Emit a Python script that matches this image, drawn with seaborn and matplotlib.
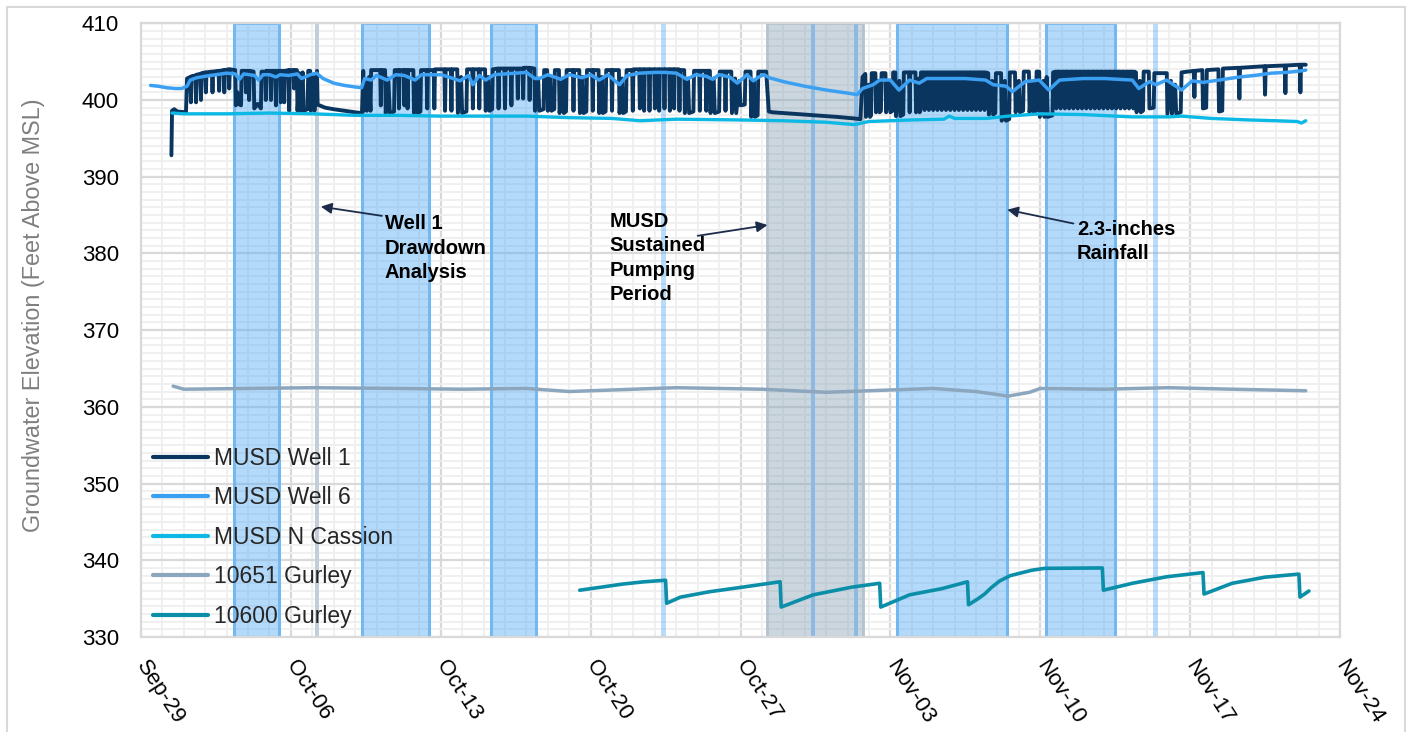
import numpy as np
import pandas as pd
import matplotlib
matplotlib.use("Agg")
import matplotlib.pyplot as plt
import matplotlib.dates as mdates
from matplotlib.patches import Rectangle
import seaborn as sns

# ---------------- data (day offsets from Sep-29, elevation ft MSL) ----------------
START = pd.Timestamp("2019-09-29")

xtick_labels = ["Sep-29", "Oct-06", "Oct-13", "Oct-20", "Oct-27",
                "Nov-03", "Nov-10", "Nov-17", "Nov-24"]
xtick_days = [0, 7, 14, 21, 28, 35, 42, 49, 56]
yticks = [330, 340, 350, 360, 370, 380, 390, 400, 410]

series_names = ["MUSD Well 1", "MUSD Well 6", "MUSD N Cassion",
                "10651 Gurley", "10600 Gurley"]
series_colors = ["#0a355f", "#3ba0f2", "#0cb9e4", "#8ba6bd", "#0b8ea8"]

w1_startup = [(1.42, 392.8), (1.45, 398.6), (1.55, 398.8), (1.7, 398.5), (2.1, 398.4), (2.15, 402.8),
              (2.30, 403.0), (2.33, 399.7), (2.36, 403.1), (2.54, 403.2), (2.57, 399.7), (2.60, 403.3),
              (2.77, 403.4), (2.80, 400.0), (2.83, 403.5), (3.00, 403.6), (3.03, 401.0), (3.06, 403.6),
              (3.31, 403.7), (3.34, 401.0), (3.37, 403.7), (3.62, 403.8), (3.65, 401.2), (3.68, 403.8),
              (3.86, 403.9), (3.89, 401.0), (3.92, 403.9), (4.09, 404.0), (4.12, 401.5), (4.15, 404.0),
              (4.40, 403.9), (4.43, 399.3), (4.50, 401.0), (4.55, 399.5), (4.67, 399.3), (4.70, 403.8),
              (4.87, 403.8), (4.90, 401.0), (4.93, 403.8), (5.02, 403.8), (5.05, 400.0), (5.08, 403.8),
              (5.26, 403.7), (5.29, 398.9), (5.45, 399.5), (5.60, 398.9), (5.63, 403.7), (5.80, 403.7),
              (5.83, 400.0), (5.86, 403.8), (6.04, 403.8), (6.07, 400.0), (6.10, 403.8), (6.27, 403.8),
              (6.30, 399.3), (6.33, 403.8), (6.50, 403.8), (6.53, 399.7), (6.56, 403.8), (6.66, 403.8),
              (6.69, 399.7), (6.72, 403.8), (6.89, 403.9), (6.92, 398.6), (6.95, 403.9), (7.12, 403.9),
              (7.15, 401.5), (7.18, 403.9), (7.28, 403.9), (7.31, 398.6), (7.40, 403.5), (7.45, 398.6),
              (7.55, 403.6), (7.60, 398.6), (7.78, 398.8), (7.81, 403.8), (7.90, 403.8), (7.93, 398.6),
              (8.05, 403.0), (8.10, 398.6), (8.22, 403.8), (8.25, 399.4), (8.6, 399.0), (9.0, 398.8),
              (9.5, 398.6), (10.0, 398.4), (10.32, 398.3)]

w1_october = [(10.38, 403.8), (10.42, 398.6), (10.50, 402.5), (10.55, 398.6), (10.65, 403.0), (10.72, 398.6),
              (10.75, 403.9), (11.17, 403.9), (11.20, 399.3), (11.23, 403.9), (11.40, 403.9), (11.43, 398.3),
              (11.55, 402.8), (11.62, 398.3), (11.82, 398.5), (11.85, 403.9), (12.02, 403.9), (12.05, 398.9),
              (12.08, 403.9), (12.27, 403.9), (12.30, 399.3), (12.33, 403.9), (12.42, 403.9), (12.45, 398.9),
              (12.48, 403.9), (12.72, 403.9), (12.75, 398.3), (12.88, 402.8), (12.93, 398.3), (13.05, 398.5),
              (13.08, 403.9), (13.34, 403.9), (13.37, 398.9), (13.40, 403.9), (13.67, 403.9), (13.70, 398.9),
              (13.73, 404.0), (14.17, 404.0), (14.20, 398.6), (14.23, 404.0), (14.47, 404.0), (14.50, 398.6),
              (14.53, 404.0), (14.77, 404.0), (14.80, 398.3), (14.95, 403.0), (15.00, 398.3), (15.20, 398.5),
              (15.23, 404.0), (15.47, 404.0), (15.50, 398.9), (15.53, 404.0), (15.77, 404.0), (15.80, 398.9),
              (15.83, 404.0), (16.07, 404.0), (16.10, 398.6), (16.22, 403.0), (16.27, 398.6), (16.40, 398.8),
              (16.43, 404.0), (16.67, 404.1), (16.70, 398.9), (16.73, 404.1), (16.97, 404.1), (17.00, 398.9),
              (17.03, 404.1), (17.27, 404.1), (17.30, 399.3), (17.33, 404.1), (17.57, 404.1), (17.60, 400.2),
              (17.63, 404.1), (17.82, 404.1), (17.85, 400.2), (17.88, 404.2), (18.12, 404.2), (18.15, 400.0),
              (18.18, 404.2), (18.37, 404.1), (18.40, 398.6), (18.55, 402.8), (18.60, 398.6), (18.80, 398.8),
              (18.83, 403.9), (18.97, 403.9), (19.00, 398.6), (19.12, 403.0), (19.17, 398.6), (19.30, 398.8),
              (19.33, 403.9), (19.52, 403.9), (19.55, 398.3), (19.70, 402.8), (19.75, 398.3), (19.85, 398.5),
              (19.88, 403.9), (20.17, 403.9), (20.20, 398.6), (20.23, 403.9), (20.47, 403.9), (20.50, 398.3),
              (20.62, 403.0), (20.67, 398.3), (20.80, 398.5), (20.83, 403.9), (21.07, 403.9), (21.10, 398.6),
              (21.13, 403.9), (21.37, 403.9), (21.40, 398.3), (21.52, 403.0), (21.57, 398.3), (21.70, 398.5),
              (21.73, 403.9), (21.97, 403.9), (22.00, 398.6), (22.03, 403.9), (22.32, 403.9), (22.35, 398.3),
              (22.47, 402.8), (22.52, 398.3), (22.65, 398.5), (22.68, 403.9), (22.94, 403.9), (22.97, 398.6),
              (23.00, 404.0), (23.27, 404.0), (23.30, 398.9), (23.33, 404.0), (23.47, 404.0), (23.50, 398.6),
              (23.53, 404.0), (23.72, 404.0), (23.75, 398.6), (23.78, 404.0), (23.97, 404.0), (24.00, 398.9),
              (24.03, 404.0), (24.17, 404.0), (24.20, 398.6), (24.23, 404.0), (24.42, 404.0), (24.45, 398.9),
              (24.48, 404.0), (24.67, 404.0), (24.70, 398.6), (24.73, 404.0), (24.87, 404.0), (24.90, 398.9),
              (24.93, 404.0), (25.12, 404.0), (25.15, 398.6), (25.18, 403.9), (25.37, 403.9), (25.40, 398.3),
              (25.55, 402.8), (25.60, 398.3), (25.80, 398.5), (25.83, 403.8), (26.07, 403.8), (26.10, 398.6),
              (26.13, 403.8), (26.37, 403.8), (26.40, 398.6), (26.43, 403.8), (26.57, 403.8), (26.60, 398.3),
              (26.75, 402.8), (26.80, 398.3), (27.00, 398.5), (27.03, 403.7), (27.27, 403.7), (27.30, 398.6),
              (27.33, 403.7), (27.57, 403.7), (27.60, 398.3), (27.75, 402.8), (27.80, 398.3), (27.95, 402.5),
              (28.00, 399.3), (28.20, 399.4), (28.23, 403.7), (28.47, 403.7), (28.50, 397.8), (28.62, 402.5),
              (28.67, 397.8), (28.80, 398.0), (28.83, 403.7), (29.20, 403.7)]

w1_sustained = [(29.32, 398.5), (29.5, 398.4), (30.5, 398.2), (31.5, 398.0), (32.5, 397.8),
                (33.3, 397.6), (33.6, 397.5)]

w1_november = [(33.70, 403.0), (33.83, 403.4), (33.86, 397.8), (34.00, 402.0), (34.05, 397.8), (34.10, 398.0),
               (34.13, 403.5), (34.30, 403.5), (34.33, 398.4), (34.45, 402.5), (34.50, 398.4), (34.56, 398.6),
               (34.59, 403.5), (34.77, 403.5), (34.80, 398.4), (34.95, 402.5), (35.00, 398.4), (35.10, 398.6),
               (35.13, 403.6), (35.23, 403.6), (35.26, 397.9), (35.42, 402.5), (35.47, 397.9), (35.60, 398.1),
               (35.63, 403.6), (35.87, 403.6), (35.90, 398.4), (35.93, 403.6), (36.17, 403.6), (36.20, 398.4),
               (36.32, 402.8), (36.37, 398.4), (36.40, 398.6), (36.43, 403.6),
               (36.57, 403.6), (36.60, 398.7), (36.65, 403.6), (36.77, 403.6), (36.80, 398.7), (36.85, 403.6),
               (36.97, 403.6), (37.00, 398.7), (37.05, 403.6), (37.17, 403.6), (37.20, 398.7), (37.25, 403.6),
               (37.37, 403.6), (37.40, 398.7), (37.45, 403.6), (37.57, 403.6), (37.60, 398.7), (37.65, 403.6),
               (37.77, 403.6), (37.80, 398.7), (37.85, 403.6), (37.97, 403.6), (38.00, 398.7), (38.05, 403.6),
               (38.17, 403.6), (38.20, 398.7), (38.25, 403.6), (38.37, 403.6), (38.40, 398.7), (38.45, 403.6),
               (38.57, 403.6), (38.60, 398.7), (38.65, 403.6), (38.77, 403.6), (38.80, 398.7), (38.85, 403.6),
               (38.97, 403.6), (39.00, 398.7), (39.05, 403.6), (39.17, 403.6), (39.20, 398.7), (39.25, 403.6),
               (39.37, 403.6), (39.40, 398.7), (39.45, 403.6),
               (39.57, 403.5), (39.60, 398.1), (39.75, 402.5), (39.80, 398.1), (39.90, 398.3), (39.93, 403.5),
               (40.17, 403.5), (40.20, 397.3), (40.35, 402.5), (40.40, 397.3), (40.55, 397.5), (40.58, 403.6),
               (40.82, 403.6), (40.85, 398.4), (41.00, 402.5), (41.05, 398.4), (41.20, 398.6), (41.23, 403.7),
               (41.47, 403.7), (41.50, 398.4), (41.65, 402.5), (41.70, 398.4), (41.80, 398.6), (41.83, 403.7),
               (41.95, 403.7), (41.98, 397.8), (42.15, 402.5), (42.20, 397.8), (42.30, 403.0), (42.35, 397.8),
               (42.57, 398.0), (42.60, 403.6),
               (42.72, 403.7), (42.75, 398.9), (42.80, 403.7), (42.92, 403.7), (42.95, 398.9), (43.00, 403.7),
               (43.12, 403.7), (43.15, 398.9), (43.20, 403.7), (43.32, 403.7), (43.35, 398.9), (43.40, 403.7),
               (43.52, 403.7), (43.55, 398.9), (43.60, 403.7), (43.72, 403.7), (43.75, 398.9), (43.80, 403.7),
               (43.92, 403.7), (43.95, 398.9), (44.00, 403.7), (44.12, 403.7), (44.15, 398.9), (44.20, 403.7),
               (44.32, 403.7), (44.35, 398.9), (44.40, 403.7), (44.52, 403.7), (44.55, 398.9), (44.60, 403.7),
               (44.72, 403.7), (44.75, 398.9), (44.80, 403.7), (44.92, 403.7), (44.95, 398.9), (45.00, 403.7),
               (45.12, 403.7), (45.15, 398.9), (45.20, 403.7), (45.32, 403.7), (45.35, 398.9), (45.40, 403.7),
               (45.52, 403.7), (45.55, 398.9), (45.60, 403.7), (45.72, 403.7), (45.75, 398.9), (45.80, 403.7),
               (45.92, 403.7), (45.95, 398.9), (46.00, 403.7), (46.12, 403.7), (46.15, 398.9), (46.20, 403.7),
               (46.32, 403.7), (46.35, 398.9), (46.40, 403.7),
               (46.47, 403.6), (46.50, 398.4), (46.65, 402.5), (46.70, 398.4), (46.80, 398.6), (46.83, 403.7),
               (46.95, 403.7), (47.07, 403.7), (47.10, 398.9), (47.30, 399.0), (47.33, 403.5), (47.78, 403.5),
               (47.91, 403.5), (47.94, 398.2), (48.10, 402.5), (48.15, 398.2), (48.30, 402.0), (48.35, 398.2),
               (48.56, 398.4), (48.60, 403.6)]

w1_recovery = [(48.90, 403.7), (49.17, 403.8), (49.20, 400.4), (49.23, 403.8), (49.57, 403.9), (49.60, 398.9),
               (49.75, 399.0), (49.78, 403.9), (50.32, 404.0), (50.35, 398.5), (50.50, 398.6), (50.53, 404.1),
               (51.27, 404.2), (51.30, 400.2), (51.33, 404.2), (52.47, 404.4), (52.50, 400.7), (52.53, 404.4),
               (53.42, 404.5), (53.45, 400.9), (53.48, 404.5), (54.12, 404.6), (54.15, 401.0), (54.18, 404.6),
               (54.40, 404.6)]

w6_points = [(0.45, 401.9), (0.8, 401.8), (1.2, 401.6), (1.6, 401.5), (1.9, 401.5), (2.15, 401.8), (2.3, 402.6),
             (2.6, 402.9), (3.0, 403.1), (3.5, 403.3), (4.0, 403.5), (4.4, 403.4), (4.6, 402.7), (4.8, 403.4),
             (5.3, 403.2), (5.5, 402.6), (5.7, 403.3), (6.0, 403.3), (6.3, 403.0), (6.5, 403.3), (6.9, 403.2),
             (7.3, 403.4), (7.5, 402.8), (7.9, 403.3), (8.2, 403.5), (8.5, 402.8), (9.0, 402.2), (9.5, 401.9),
             (10.0, 401.7), (10.3, 401.6), (10.45, 402.8), (10.75, 402.6), (11.0, 403.2), (11.5, 402.6),
             (11.9, 403.3), (12.3, 403.2), (12.8, 402.6), (13.1, 403.3), (13.5, 403.3), (14.0, 403.3),
             (14.26, 403.1), (14.9, 402.5), (15.3, 403.2), (15.5, 402.0), (15.8, 403.2), (16.1, 402.6),
             (16.5, 403.3), (17.0, 403.4), (17.5, 403.5), (18.0, 403.6), (18.4, 402.8), (18.6, 402.8),
             (19.0, 403.3), (19.6, 402.7), (20.0, 403.3), (20.6, 402.9), (21.0, 403.3), (21.4, 402.6),
             (21.8, 403.3), (22.35, 402.0), (22.7, 403.2), (23.3, 403.5), (24.0, 403.6), (24.5, 403.6),
             (25.0, 403.5), (25.5, 402.7), (25.9, 403.3), (26.4, 403.1), (26.7, 402.7), (27.0, 403.3),
             (27.5, 403.0), (27.85, 402.2), (28.1, 402.8), (28.3, 403.3), (28.6, 402.5), (28.85, 403.0),
             (29.1, 403.3), (29.35, 402.9), (30.0, 402.4), (31.0, 401.8), (32.0, 401.3), (33.0, 400.9),
             (33.45, 400.7), (33.7, 401.5), (34.2, 402.0), (34.5, 402.6), (35.0, 402.6), (35.4, 401.3),
             (35.9, 402.6), (36.35, 402.2), (36.7, 402.8), (37.5, 402.8), (38.5, 402.8), (39.45, 402.6),
             (39.8, 402.0), (40.4, 401.8), (40.7, 401.1), (41.3, 402.4), (41.95, 402.6), (42.4, 401.3),
             (42.9, 402.6), (44.0, 402.8), (45.0, 402.8), (46.3, 402.6), (46.6, 401.5), (47.1, 402.4),
             (47.4, 402.0), (47.9, 402.6), (48.6, 401.3), (49.1, 402.5), (49.6, 402.3), (50.35, 402.6),
             (51.3, 403.0), (52.0, 403.2), (52.8, 403.5), (53.5, 403.6), (54.2, 403.8), (54.4, 403.9)]

cassion_points = [(1.45, 398.3), (2.0, 398.2), (4.0, 398.2), (6.0, 398.3), (8.0, 398.2), (10.0, 398.0),
                  (12.0, 398.0), (14.0, 397.9), (16.0, 397.9), (18.0, 397.9), (20.0, 397.7), (22.0, 397.6),
                  (23.3, 397.3), (25.0, 397.5), (28.0, 397.4), (30.0, 397.3), (32.0, 397.1), (33.3, 396.8),
                  (33.5, 396.9), (34.0, 397.2), (36.0, 397.4), (37.5, 397.5), (37.75, 397.9), (38.0, 397.6),
                  (39.5, 397.6), (40.5, 397.9), (42.0, 398.2), (44.0, 398.1), (46.3, 397.8), (48.0, 397.8),
                  (48.6, 397.9), (50.0, 397.6), (51.75, 397.4), (53.0, 397.3), (54.0, 397.2), (54.2, 397.0),
                  (54.4, 397.3)]

gurley10651_points = [(1.5, 362.7), (2.0, 362.3), (5.0, 362.4), (8.0, 362.5), (12.0, 362.4), (15.0, 362.3),
                      (18.0, 362.4), (20.0, 362.0), (22.0, 362.2), (25.0, 362.5), (29.0, 362.3), (32.0, 361.9),
                      (34.0, 362.1), (37.0, 362.4), (39.0, 362.0), (40.5, 361.4), (41.5, 361.9), (42.0, 362.4),
                      (45.0, 362.3), (48.0, 362.5), (51.0, 362.3), (54.4, 362.1)]

gurley10600_points = [(20.49, 336.1), (21.5, 336.5), (22.5, 336.9), (23.5, 337.2), (24.5, 337.4), (24.55, 334.4),
                      (25.2, 335.2), (26.55, 335.9), (28.1, 336.5), (29.85, 337.2), (29.9, 333.9), (31.4, 335.5),
                      (33.2, 336.5), (34.5, 337.0), (34.55, 333.9), (35.9, 335.5), (37.4, 336.3), (38.6, 337.2),
                      (38.65, 334.2), (39.1, 335.0), (39.4, 335.6), (39.7, 336.4), (40.1, 337.3), (40.6, 338.0),
                      (41.6, 338.7), (42.2, 338.95), (44.9, 339.0), (44.95, 336.1), (46.3, 337.0), (47.9, 337.85),
                      (49.6, 338.4), (49.65, 335.6), (50.96, 337.0), (52.5, 337.8), (54.08, 338.2), (54.13, 335.2),
                      (54.55, 336.0)]

rain_spans = [(4.33, 6.46), (10.34, 13.45), (16.33, 18.46), (35.29, 40.46), (42.26, 45.5)]
rain_thin_spans = [(24.28, 24.5), (47.28, 47.5)]
drawdown_span = (8.12, 8.3)
sustained_span = (29.26, 33.74)
sustained_marks = [(31.28, 31.48), (33.28, 33.48)]

# ---------------- plotting ----------------
sns.set_theme(style="white")
plt.rcParams["font.family"] = ["Liberation Sans", "DejaVu Sans"]

fig = plt.figure(figsize=(14.14, 7.32), dpi=100)
L, R, B, T = 141 / 1414, 1340 / 1414, 1 - 637 / 732, 1 - 23.3 / 732
ax = fig.add_axes([L, B, R - L, T - B])

base = mdates.date2num(START.to_pydatetime())


def frame(points):
    d = np.array([p[0] for p in points])
    v = np.array([p[1] for p in points])
    return pd.DataFrame({"time": START + pd.to_timedelta(d, unit="D"), "elev": v})


w1_all = w1_startup + w1_october + w1_sustained + w1_november + w1_recovery
all_points = [w1_all, w6_points, cassion_points, gurley10651_points, gurley10600_points]
widths = [2.8, 2.5, 2.4, 2.5, 2.6]

# shaded periods
for a, b in rain_spans:
    ax.axvspan(base + a, base + b, facecolor=(0.345, 0.68, 0.96, 0.45),
               edgecolor="#74b8f2", lw=2.2, zorder=1)
for a, b in rain_thin_spans:
    ax.axvspan(base + a, base + b, facecolor=(0.345, 0.68, 0.96, 0.42), lw=0, zorder=1)
ax.axvspan(base + drawdown_span[0], base + drawdown_span[1], facecolor="#c3ced8", lw=0, zorder=1)
ax.axvspan(base + sustained_span[0], base + sustained_span[1], facecolor=(0.55, 0.65, 0.72, 0.45),
           edgecolor="#b3c2ce", lw=2.0, zorder=1)
for a, b in sustained_marks:
    ax.axvspan(base + a, base + b, facecolor="#8dbae3", lw=0, zorder=1.1)

for name, col, pts, lw in zip(series_names, series_colors, all_points, widths):
    sns.lineplot(data=frame(pts), x="time", y="elev", color=col, linewidth=lw,
                 label=name, sort=False, estimator=None, ax=ax,
                 solid_joinstyle="round", solid_capstyle="round")

ax.set_xlim(base + xtick_days[0], base + xtick_days[-1])
ax.set_ylim(yticks[0], yticks[-1])
ax.set_xticks([base + d for d in xtick_days])
ax.set_xticklabels(xtick_labels)
ax.set_xticks([base + d for d in range(xtick_days[0], xtick_days[-1] + 1)], minor=True)
ax.set_yticks(yticks)
ax.set_yticks(np.arange(yticks[0], yticks[-1] + 1, 1), minor=True)
ax.set_axisbelow(True)
ax.grid(which="major", color="#d9d9d9", lw=1.6)
ax.grid(which="minor", color="#efefef", lw=1.3)
ax.tick_params(axis="both", which="both", length=0)
ax.tick_params(axis="y", labelsize=16, pad=16, labelcolor="black")
ax.tick_params(axis="x", labelsize=16, pad=18, labelcolor="black")
for lab in ax.get_xticklabels():
    lab.set_rotation(-57)
    lab.set_ha("left")
    lab.set_va("center")
    lab.set_rotation_mode("anchor")
for s in ax.spines.values():
    s.set_color("#d9d9d9")
    s.set_linewidth(1.6)

ax.set_xlabel("")
ax.set_ylabel("Groundwater Elevation (Feet Above MSL)", fontsize=16.8, color="#7f7f7f")
ax.yaxis.set_label_coords(-0.080, 0.524)

leg = ax.legend(loc="lower left", bbox_to_anchor=(0.010, 0.015), frameon=False,
                fontsize=16.5, handlelength=2.4, handletextpad=0.25, labelspacing=0.72,
                borderpad=0.0, borderaxespad=0.0)
for h in leg.get_lines():
    h.set_linewidth(3.0)

# annotations
arrow_kw = dict(arrowstyle="-|>", color="#1c2b4a", lw=1.3, mutation_scale=16, shrinkA=0, shrinkB=0)
txt_kw = dict(fontsize=14.5, fontweight="bold", ha="left", va="top", linespacing=1.36, color="black")

ax.text(base + 11.39, 385.1, "Well 1\nDrawdown\nAnalysis", **txt_kw)
ax.annotate("", xy=(base + 8.40, 386.1), xytext=(base + 11.25, 384.9), arrowprops=arrow_kw)

ax.text(base + 21.88, 385.4, "MUSD\nSustained\nPumping\nPeriod", **txt_kw)
ax.annotate("", xy=(base + 29.26, 383.7), xytext=(base + 26.0, 382.3), arrowprops=arrow_kw)

ax.text(base + 43.72, 384.4, "2.3-inches\nRainfall", **txt_kw)
ax.annotate("", xy=(base + 40.46, 385.7), xytext=(base + 43.55, 383.9), arrowprops=arrow_kw)

# outer chart frame
fig.patches.append(Rectangle((7 / 1414, -0.02), (1405 - 7) / 1414, 1 - 7 / 732 + 0.02,
                             transform=fig.transFigure, fill=False, edgecolor="#d9d9d9", lw=1.5))

fig.savefig("out.png", dpi=100)
